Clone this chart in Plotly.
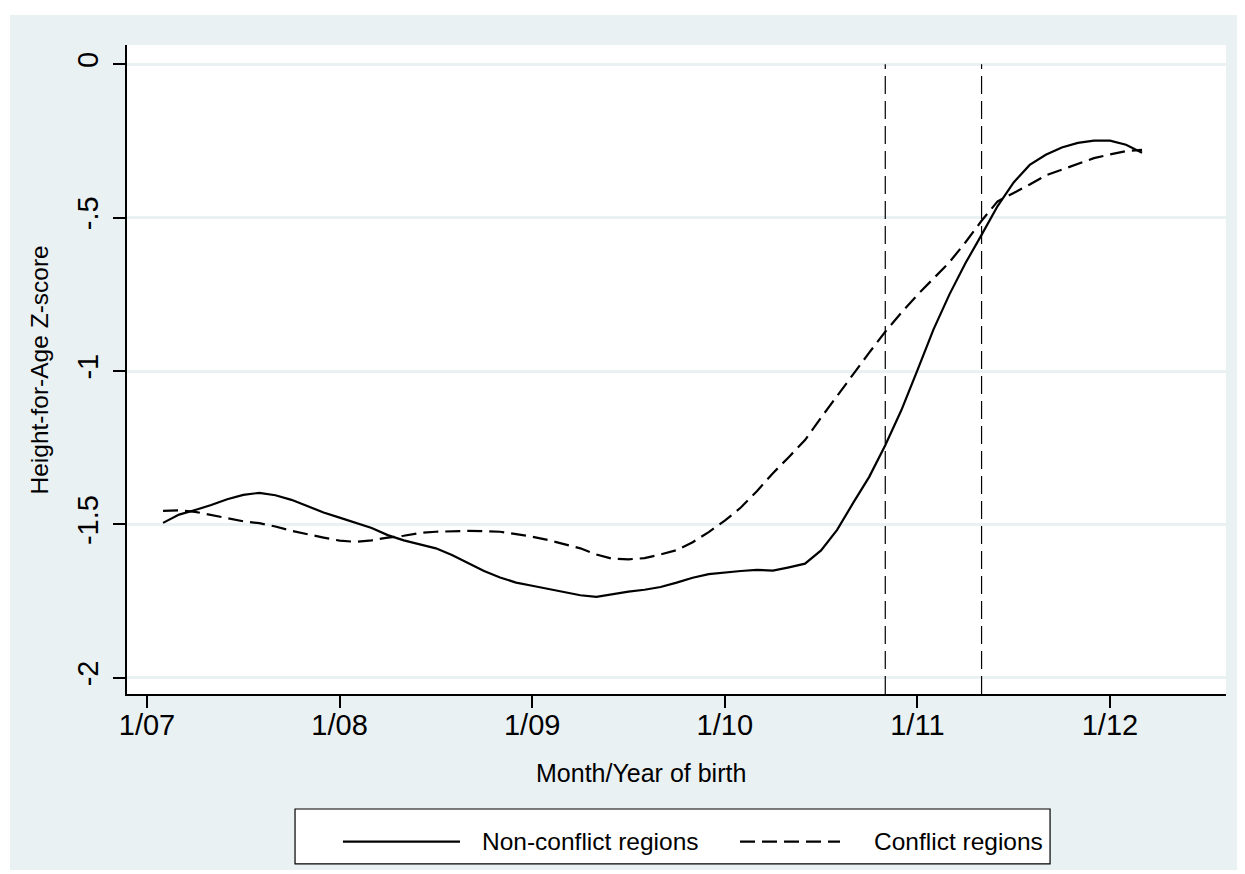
import plotly.graph_objects as go

# Month index: 0 = January 2007
months = list(range(1, 63))

non_conflict = [
    -1.495, -1.468, -1.453, -1.437, -1.418, -1.404, -1.397, -1.405, -1.420, -1.440,
    -1.461, -1.478, -1.494, -1.512, -1.535, -1.552, -1.565, -1.578, -1.600, -1.627,
    -1.652, -1.673, -1.690, -1.700, -1.710, -1.720, -1.731, -1.736, -1.727, -1.719,
    -1.713, -1.704, -1.690, -1.674, -1.662, -1.656, -1.652, -1.648, -1.651, -1.640,
    -1.628, -1.585, -1.518, -1.430, -1.345, -1.242, -1.128, -0.998, -0.865, -0.750,
    -0.648, -0.556, -0.462, -0.385, -0.328, -0.295, -0.271, -0.256, -0.249, -0.249,
    -0.262, -0.288,
]

conflict = [
    -1.456, -1.454, -1.459, -1.470, -1.481, -1.490, -1.496, -1.507, -1.521, -1.533,
    -1.543, -1.553, -1.557, -1.552, -1.543, -1.537, -1.528, -1.524, -1.522, -1.521,
    -1.522, -1.524, -1.532, -1.540, -1.551, -1.564, -1.578, -1.598, -1.612, -1.614,
    -1.610, -1.598, -1.584, -1.558, -1.525, -1.488, -1.445, -1.392, -1.333, -1.280,
    -1.225, -1.152, -1.080, -1.008, -0.940, -0.872, -0.810, -0.752, -0.700, -0.645,
    -0.580, -0.510, -0.447, -0.420, -0.392, -0.362, -0.343, -0.325, -0.306, -0.294,
    -0.283, -0.279,
]

series_names = ["Non-conflict regions", "Conflict regions"]
event_months = [46, 52]

x_tickvals = [0, 12, 24, 36, 48, 60]
x_ticktext = ["1/07", "1/08", "1/09", "1/10", "1/11", "1/12"]
y_tickvals = [0, -0.5, -1, -1.5, -2]
y_ticktext = ["0", "-.5", "-1", "-1.5", "-2"]

X_RANGE = [-1.246, 67.23]
Y_RANGE = [-2.053, 0.063]

BG = "#EAF1F3"
FONT = "Liberation Sans, Arial, Helvetica, sans-serif"
SOLID = dict(color="black", width=2.2)
DASHED = dict(color="black", width=2.2, dash="15px,7px")

fig = go.Figure()
fig.add_trace(go.Scatter(x=months, y=non_conflict, mode="lines",
                         name=series_names[0], line=SOLID, showlegend=False))
fig.add_trace(go.Scatter(x=months, y=conflict, mode="lines",
                         name=series_names[1], line=DASHED, showlegend=False))

shapes = [
    # graph region background
    dict(type="rect", xref="paper", yref="paper", x0=-0.1065, x1=1.0109,
         y0=-0.2712, y1=1.0462, fillcolor=BG, line=dict(width=0), layer="below"),
    # plot region background
    dict(type="rect", xref="paper", yref="paper", x0=0, x1=1, y0=0, y1=1,
         fillcolor="white", line=dict(width=0), layer="below"),
    # legend box
    dict(type="rect", xref="paper", yref="paper", x0=0.1529, x1=0.8399,
         y0=-0.2619, y1=-0.1772, fillcolor="white",
         line=dict(color="black", width=1.2)),
    # legend keys
    dict(type="line", xref="paper", yref="paper", x0=0.1965, x1=0.3030,
         y0=-0.2276, y1=-0.2276, line=SOLID),
    dict(type="line", xref="paper", yref="paper", x0=0.5578, x1=0.6488,
         y0=-0.2276, y1=-0.2276, line=DASHED),
]
for m in event_months:
    shapes.append(dict(type="line", xref="x", yref="y", x0=m, x1=m,
                       y0=Y_RANGE[0], y1=0,
                       line=dict(color="black", width=1.2, dash="18px,7px")))

annotations = [
    dict(text="Month/Year of birth", xref="paper", yref="paper",
         x=0.4677, y=-0.1217, xanchor="center", yanchor="middle",
         showarrow=False, font=dict(size=25, family=FONT)),
    dict(text="Height-for-Age Z-score", xref="paper", yref="paper",
         x=-0.0792, y=0.5, xanchor="center", yanchor="middle",
         textangle=-90, showarrow=False, font=dict(size=24.5, family=FONT)),
    dict(text=series_names[0], xref="paper", yref="paper",
         x=0.3212, y=-0.2276, xanchor="left", yanchor="middle",
         showarrow=False, font=dict(size=24.5, family=FONT)),
    dict(text=series_names[1], xref="paper", yref="paper",
         x=0.6779, y=-0.2276, xanchor="left", yanchor="middle",
         showarrow=False, font=dict(size=24.5, family=FONT)),
]

fig.update_layout(
    width=1237, height=866,
    margin=dict(l=119, r=19, t=37, b=180),
    paper_bgcolor="white",
    plot_bgcolor="rgba(0,0,0,0)",
    font=dict(family=FONT, color="black"),
    shapes=shapes,
    annotations=annotations,
    showlegend=False,
)

fig.update_xaxes(
    range=X_RANGE, tickmode="array", tickvals=x_tickvals, ticktext=x_ticktext,
    ticks="outside", ticklen=12, tickwidth=1.5, tickcolor="black",
    showline=True, linecolor="black", linewidth=1.7,
    showgrid=False, zeroline=False, tickfont=dict(size=29, family=FONT),
    ticklabelstandoff=-8,
)
fig.update_yaxes(
    range=Y_RANGE, tickmode="array", tickvals=y_tickvals, ticktext=y_ticktext,
    ticks="outside", ticklen=12, tickwidth=1.5, tickcolor="black",
    showline=True, linecolor="black", linewidth=1.7,
    showgrid=True, gridcolor=BG, gridwidth=2.5, zeroline=False,
    tickangle=-90, tickfont=dict(size=29, family=FONT),
    ticklabelstandoff=4,
)

fig.write_html("out.html")
